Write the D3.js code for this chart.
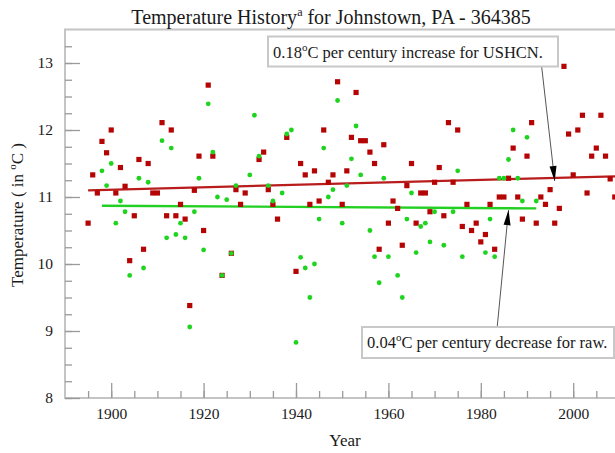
<!DOCTYPE html>
<html>
<head>
<meta charset="utf-8">
<script src="https://cdn.jsdelivr.net/npm/d3@7"></script>
<style>
body { margin: 0; background: #fff; }
svg text { font-family: "Liberation Serif", "Times New Roman", serif; fill: #1a1a1a; }
</style>
</head>
<body>
<svg id="chart"></svg>
<script>
const width = 615;
const height = 453;

// years covered by the station record
const years = d3.range(1895, 2010);

// USHCN adjusted annual means (red squares), null = no mark
const ushcn = [
  10.61, 11.33, 11.06, 11.83, 11.66, 12.00, 11.06, 11.44, 11.16, 10.05, // 1895-1904
  10.72, 11.56, 10.22, 11.50, 11.06, 11.06, 12.11, 10.72, 12.00, 10.72, // 1905-1914
  10.89, 10.67, 9.38, 11.10, 11.61, 10.50, 12.67, 11.61, null, 9.83,    // 1915-1924
  null, 10.16, 11.11, 10.89, 11.06, null, null, 11.56, 11.67, 11.11,    // 1925-1934
  10.89, 10.67, null, 11.89, null, 9.89, 11.50, 11.33, 10.89, 11.39,    // 1935-1944
  10.94, 12.00, 11.22, 11.33, 12.72, 10.89, 11.39, 11.89, 12.56, 11.84, // 1945-1954
  11.84, 11.67, 11.50, 10.22, 11.78, 10.61, 10.94, 10.83, 10.28, 11.17, // 1955-1964
  11.50, 10.61, 11.06, 11.06, 10.78, 11.22, 11.44, 10.72, 12.11, 11.22, // 1965-1974
  12.00, 10.56, 10.89, 10.50, 10.61, 10.33, 10.44, 10.89, 10.22, 11.00, // 1975-1984
  11.00, 11.28, 11.73, 11.00, 10.67, 11.61, 12.11, 10.61, 11.00, 10.89, // 1985-1994
  11.11, 10.61, 10.83, 12.95, 11.94, 11.33, 12.00, 12.22, 11.06, 11.61, // 1995-2004
  11.73, 12.22, 11.61, 11.27, 11.00                                     // 2005-2009
];

// raw annual means (green dots), null = no mark
const raw = [
  null, null, null, 11.39, 11.17, 11.50, 10.61, 10.94, 10.78, 9.83,     // 1895-1904
  null, 11.28, 9.94, 11.22, null, null, 11.84, 10.39, 11.73, 10.44,     // 1905-1914
  10.61, 10.39, 9.06, 10.78, 11.28, 10.21, 12.39, 11.67, 11.00, 9.83,   // 1915-1924
  10.96, 10.16, 11.17, null, null, 11.33, 12.22, 11.61, null, 11.17,    // 1925-1934
  10.94, null, 11.06, 11.94, 12.00, 8.83, 10.10, 9.94, 9.50, 10.00,     // 1935-1944
  10.67, 11.73, 11.00, 11.11, 12.44, 10.61, 11.17, 11.57, 12.06, 11.33, // 1945-1954
  null, 10.50, 10.11, 9.72, 11.28, 10.11, null, 9.83, 9.50, 10.67,      // 1955-1964
  11.06, 10.17, 10.56, 10.61, 10.33, 10.78, null, 10.28, null, 10.78,   // 1965-1974
  11.39, 10.11, null, null, null, null, 10.17, 10.67, 10.11, 11.28,     // 1975-1984
  11.28, 11.56, 12.00, 11.28, 10.94, 11.89, null, 10.94                 // 1985-1992
];

// linear trend end points
const ushcnTrendYears = [1895, 2010];
const ushcnTrend = [11.10, 11.31];
const rawTrendYears = [1898, 1992];
const rawTrend = [10.87, 10.83];

// axis ticks
const xMajor = [1900, 1920, 1940, 1960, 1980, 2000];
const xMinor = d3.range(1895, 2010, 5);
const yMajor = [8, 9, 10, 11, 12, 13];
const yMinor = d3.range(8, 13.5, 0.25);

const svg = d3.select("#chart")
  .attr("width", width)
  .attr("height", height);

const x = d3.scaleLinear().domain([1890, 2010]).range([65, 619.4]);
const y = d3.scaleLinear().domain([8, 13.5]).range([398, 29.5]);

// frame
svg.append("rect")
  .attr("x", 65).attr("y", 29.5)
  .attr("width", 554.4).attr("height", 368.5)
  .attr("fill", "none")
  .attr("stroke", "#c4c4c4")
  .attr("stroke-width", 2);

// ticks
function styleAxis(g) {
  g.select(".domain").remove();
  g.selectAll("line").attr("stroke", "#9a9a9a").attr("stroke-width", 1.3);
  g.selectAll("text")
    .style("font-size", "15.5px")
    .style("font-family", "'Liberation Serif', serif")
    .attr("fill", "#1a1a1a");
}

svg.append("g")
  .attr("transform", "translate(0,398)")
  .call(d3.axisBottom(x).tickValues(xMinor).tickSize(-7).tickFormat(""))
  .call(styleAxis);
svg.append("g")
  .attr("transform", "translate(0,398)")
  .call(d3.axisBottom(x).tickValues(xMajor).tickSize(-15).tickPadding(10).tickFormat(d3.format("d")))
  .call(styleAxis);

svg.append("g")
  .attr("transform", "translate(65,0)")
  .call(d3.axisLeft(y).tickValues(yMinor).tickSize(-7).tickFormat(""))
  .call(styleAxis);
svg.append("g")
  .attr("transform", "translate(65,0)")
  .call(d3.axisLeft(y).tickValues(yMajor).tickSize(-15).tickPadding(12).tickFormat(d3.format("d")))
  .call(styleAxis);

// trend lines
const line = d3.line().x(d => x(d[0])).y(d => y(d[1]));
svg.append("path")
  .datum(d3.zip(ushcnTrendYears, ushcnTrend))
  .attr("d", line)
  .attr("fill", "none")
  .attr("stroke", "#b81c1c")
  .attr("stroke-width", 2.2);
svg.append("path")
  .datum(d3.zip(rawTrendYears, rawTrend))
  .attr("d", line)
  .attr("fill", "none")
  .attr("stroke", "#22d022")
  .attr("stroke-width", 2.4);

// data points
const ushcnPts = years.map((yr, i) => [yr, ushcn[i]]).filter(d => d[1] != null);
const rawPts = years.map((yr, i) => [yr, raw[i]]).filter(d => d[1] != null);

svg.append("g").selectAll("rect")
  .data(ushcnPts)
  .join("rect")
  .attr("x", d => x(d[0]) - 2.6)
  .attr("y", d => y(d[1]) - 2.6)
  .attr("width", 5.2)
  .attr("height", 5.2)
  .attr("fill", "#b40404");

svg.append("g").selectAll("circle")
  .data(rawPts)
  .join("circle")
  .attr("cx", d => x(d[0]))
  .attr("cy", d => y(d[1]))
  .attr("r", 2.4)
  .attr("fill", "#1fd41f");

// annotations
function note(bx, by, bw, bh, num, rest) {
  svg.append("rect")
    .attr("x", bx).attr("y", by)
    .attr("width", bw).attr("height", bh)
    .attr("fill", "#fff")
    .attr("stroke", "#c8c8c8")
    .attr("stroke-width", 2);
  const t = svg.append("text")
    .attr("x", bx + 5)
    .attr("y", by + 21)
    .style("font-size", "16.5px");
  t.append("tspan").text(num);
  t.append("tspan").attr("dy", -7).style("font-size", "11px").text("o");
  t.append("tspan").attr("dy", 7).text(rest);
}

function arrow(x1, y1, x2, y2) {
  svg.append("line")
    .attr("x1", x1).attr("y1", y1)
    .attr("x2", x2).attr("y2", y2)
    .attr("stroke", "#555")
    .attr("stroke-width", 1);
  const ang = Math.atan2(y2 - y1, x2 - x1);
  const len = 15, half = 3.5;
  const bx = x2 - len * Math.cos(ang), by = y2 - len * Math.sin(ang);
  const px = -Math.sin(ang) * half, py = Math.cos(ang) * half;
  svg.append("path")
    .attr("d", `M${x2},${y2}L${bx + px},${by + py}L${bx - px},${by - py}Z`)
    .attr("fill", "#000");
}

arrow(541.7, 67, x(1996), y(11.10 + 0.21 * 101 / 115) + 3);
note(268, 36.5, 290, 30, "0.18", "C per century increase for USHCN.");

arrow(497.3, 326, x(1986), y(10.834) + 2);
note(362, 327, 252, 31, "0.04", "C per century decrease for raw.");

// titles
const title = svg.append("text")
  .attr("x", 331)
  .attr("y", 24)
  .attr("text-anchor", "middle")
  .style("font-size", "20px");
title.append("tspan").text("Temperature History");
title.append("tspan").attr("dy", -8).style("font-size", "12px").text("a");
title.append("tspan").attr("dy", 8).text(" for Johnstown, PA - 364385");

svg.append("text")
  .attr("x", 345)
  .attr("y", 446)
  .attr("text-anchor", "middle")
  .style("font-size", "17px")
  .text("Year");

const yt = svg.append("text")
  .attr("transform", "translate(23,215) rotate(-90)")
  .attr("text-anchor", "middle")
  .style("font-size", "17px");
yt.append("tspan").text("Temperature ( in ");
yt.append("tspan").attr("dy", -7).style("font-size", "11px").text("o");
yt.append("tspan").attr("dy", 7).text("C )");
</script>
</body>
</html>
